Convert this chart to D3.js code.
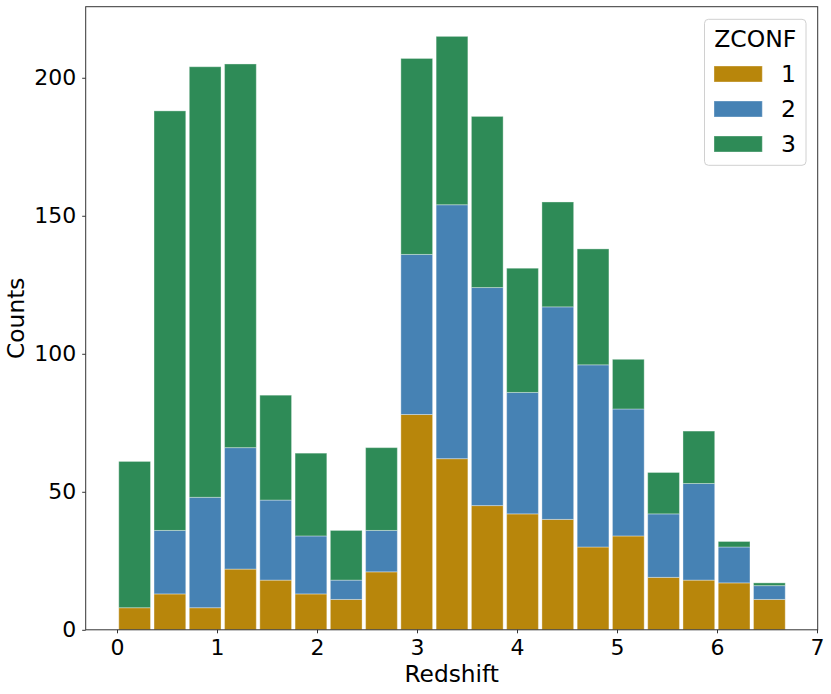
<!DOCTYPE html>
<html>
<head>
<meta charset="utf-8">
<script src="https://cdn.jsdelivr.net/npm/d3@7"></script>
<style>
  html, body { margin: 0; padding: 0; background: #fff; }
  svg { display: block; font-family: "DejaVu Sans", sans-serif; }
</style>
</head>
<body>
<svg id="chart" width="831" height="694"></svg>
<script>
// Histogram bins (Redshift), 19 equal bins from 0 to 6.7
const binStart = 0.0;
const binEnd = 6.7;
const nBins = 19;
// Counts per bin for each ZCONF class
const zconf1 = [8, 13, 8, 22, 18, 13, 11, 21, 78, 62, 45, 42, 40, 30, 34, 19, 18, 17, 11];
const zconf2 = [0, 23, 40, 44, 29, 21, 7, 15, 58, 92, 79, 44, 77, 66, 46, 23, 35, 13, 5];
const zconf3 = [53, 152, 156, 139, 38, 30, 18, 30, 71, 61, 62, 45, 38, 42, 18, 15, 19, 2, 1];
const seriesNames = ["1", "2", "3"];
const seriesColors = ["#B8860B", "#4682B4", "#2E8B57"];
const xTicks = [0, 1, 2, 3, 4, 5, 6, 7];
const yTicks = [0, 50, 100, 150, 200];

const svg = d3.select("#chart");
const L = 85.7, R = 817.7, T = 6.7, B = 629.8;

const binW = (binEnd - binStart) / nBins;
const rows = d3.range(nBins).map(i => ({
  x0: binStart + i * binW,
  x1: binStart + (i + 1) * binW,
  "1": zconf1[i], "2": zconf2[i], "3": zconf3[i]
}));
const stack = d3.stack().keys(seriesNames)(rows);
const maxTotal = d3.max(rows, d => d["1"] + d["2"] + d["3"]);

const x = d3.scaleLinear().domain([-0.313, 7.007]).range([L, R]);
const y = d3.scaleLinear().domain([0, maxTotal * 1.05]).range([B, T]);
const color = d3.scaleOrdinal().domain(seriesNames).range(seriesColors);

const rw = 0.9;
const g = svg.append("g");
stack.forEach(layer => {
  g.append("g").selectAll("rect").data(layer).join("rect")
    .attr("x", d => x(d.data.x0 + binW * (1 - rw) / 2))
    .attr("width", d => x(d.data.x0 + binW * (1 + rw) / 2) - x(d.data.x0 + binW * (1 - rw) / 2))
    .attr("y", d => y(d[1]))
    .attr("height", d => y(d[0]) - y(d[1]))
    .attr("fill", color(layer.key))
    .attr("stroke", "#fff")
    .attr("stroke-opacity", 0.35)
    .attr("stroke-width", 1);
});

// Axes
const xAxis = d3.axisBottom(x).tickValues(xTicks).tickFormat(d3.format("d")).tickSize(3.5).tickPadding(6.5);
const yAxis = d3.axisLeft(y).tickValues(yTicks).tickFormat(d3.format("d")).tickSize(3.5).tickPadding(6);

const gx = svg.append("g").attr("transform", `translate(0,${B})`).call(xAxis);
const gy = svg.append("g").attr("transform", `translate(${L},0)`).call(yAxis);
[gx, gy].forEach(a => {
  a.select(".domain").remove();
  a.selectAll(".tick line").attr("stroke", "#333").attr("stroke-width", 1);
  a.selectAll(".tick text").attr("font-size", "22px").attr("fill", "#000")
    .attr("font-family", "DejaVu Sans, sans-serif");
});

// Spines
svg.append("rect").attr("x", L).attr("y", T).attr("width", R - L).attr("height", B - T)
  .attr("fill", "none").attr("stroke", "#333").attr("stroke-width", 1);

// Axis labels
svg.append("text").attr("x", (L + R) / 2).attr("y", 682).attr("text-anchor", "middle")
  .attr("font-size", "23.3px").text("Redshift");
svg.append("text").attr("transform", `translate(24,${(T + B) / 2}) rotate(-90)`)
  .attr("text-anchor", "middle").attr("font-size", "23.3px").text("Counts");

// Legend
const lg = svg.append("g");
lg.append("rect").attr("x", 704.5).attr("y", 19.3).attr("width", 101.5).attr("height", 146)
  .attr("rx", 4).attr("fill", "#fff").attr("fill-opacity", 0.8)
  .attr("stroke", "#d0d0d0").attr("stroke-width", 1);
lg.append("text").attr("x", 755.3).attr("y", 47.3).attr("text-anchor", "middle")
  .attr("font-size", "23.5px").text("ZCONF");
seriesNames.forEach((s, i) => {
  const yy = 66 + i * 35;
  lg.append("rect").attr("x", 714).attr("y", yy).attr("width", 48.3).attr("height", 16)
    .attr("fill", color(s)).attr("stroke", "#fff").attr("stroke-opacity", 0.35);
  lg.append("text").attr("x", 788.5).attr("y", yy + 16).attr("text-anchor", "middle")
    .attr("font-size", "23.5px").text(s);
});
</script>
</body>
</html>
